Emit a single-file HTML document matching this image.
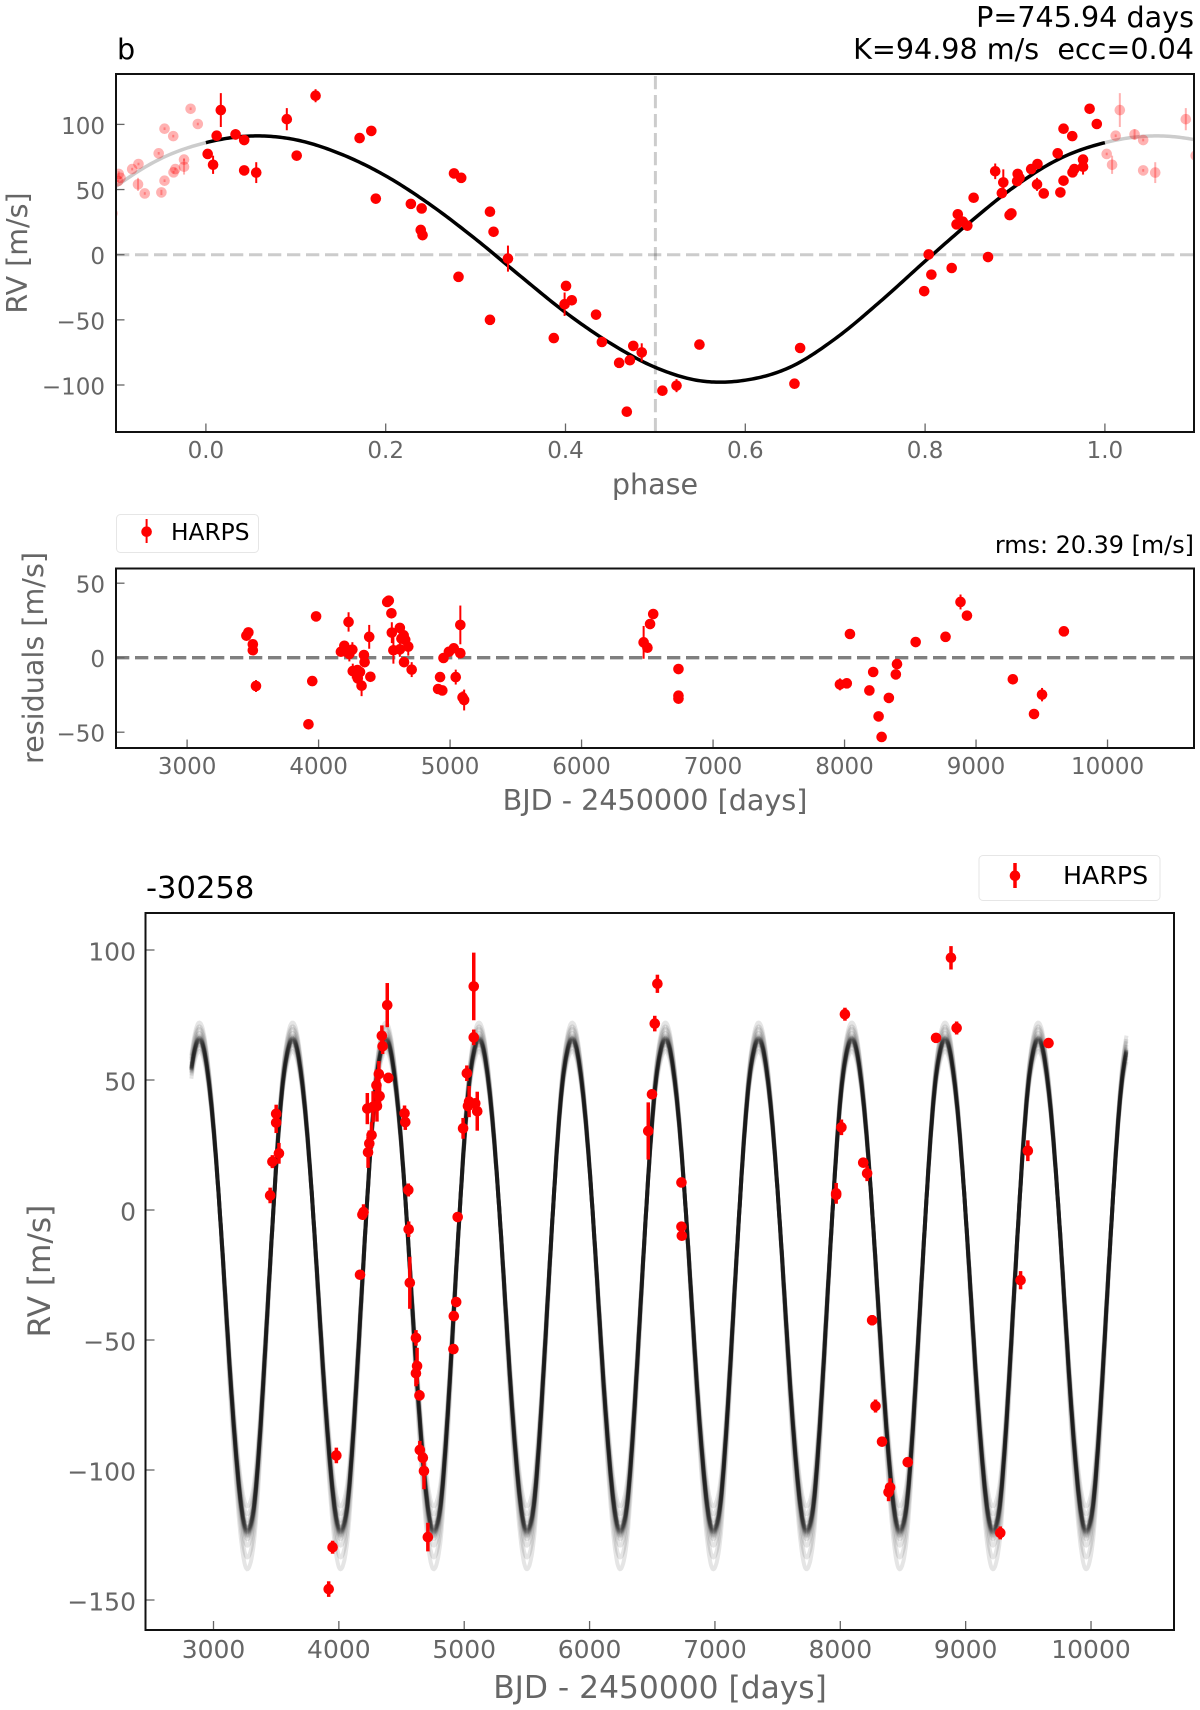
<!DOCTYPE html>
<html lang="en">
<head>
<meta charset="utf-8">
<title>RV phase, residuals and time series</title>
<style>
  html, body { margin: 0; padding: 0; background: #fff; }
  svg { display: block; font-family: "DejaVu Sans", "Liberation Sans", sans-serif; }
</style>
</head>
<body>
<svg id="fig" xmlns="http://www.w3.org/2000/svg" width="1200" height="1710" viewBox="0 0 1200 1710">
  <defs>
    <clipPath id="clip-phase"><rect x="116" y="74" width="1078" height="358"/></clipPath>
    <clipPath id="clip-res"><rect x="116" y="568" width="1078" height="180"/></clipPath>
    <clipPath id="clip-rv"><rect x="145.5" y="913" width="1028.5" height="717"/></clipPath>
  </defs>

  <g id="phase-panel"></g>
  <g id="res-panel"></g>
  <g id="rv-panel"></g>

  <text x="117" y="59" font-size="28.6" fill="#000">b</text>
  <text x="1194" y="27" font-size="28.6" fill="#000" text-anchor="end">P=745.94 days</text>
  <text x="1194" y="59" font-size="28.6" fill="#000" text-anchor="end" xml:space="preserve">K=94.98 m/s  ecc=0.04</text>
  <text x="655" y="494" font-size="28.6" fill="#666" text-anchor="middle">phase</text>
  <text transform="translate(27,253) rotate(-90)" font-size="28.5" fill="#666" text-anchor="middle">RV [m/s]</text>

  <g>
    <rect x="116.5" y="514.5" width="142" height="38" rx="4" fill="#fff" stroke="#e6e6e6" stroke-width="1"/>
    <line x1="146.6" x2="146.6" y1="519" y2="543" stroke="#f00" stroke-width="2"/>
    <circle cx="146.6" cy="531.7" r="5.3" fill="#f00"/>
    <text x="171" y="540" font-size="23.3" fill="#000">HARPS</text>
  </g>
  <text x="1194" y="553" font-size="23.9" fill="#000" text-anchor="end">rms: 20.39 [m/s]</text>
  <text x="655" y="810" font-size="28.6" fill="#666" text-anchor="middle">BJD - 2450000 [days]</text>
  <text transform="translate(43,658) rotate(-90)" font-size="28.6" fill="#666" text-anchor="middle">residuals [m/s]</text>

  <text x="146" y="898" font-size="30.6" fill="#000">-30258</text>
  <g>
    <rect x="979" y="855.5" width="181" height="45" rx="4" fill="#fff" stroke="#e6e6e6" stroke-width="1"/>
    <line x1="1015" x2="1015" y1="863" y2="888" stroke="#f00" stroke-width="3.5"/>
    <circle cx="1015" cy="875.7" r="5.3" fill="#f00"/>
    <text x="1063" y="884" font-size="25.3" fill="#000">HARPS</text>
  </g>
  <text x="660" y="1698" font-size="31.3" fill="#666" text-anchor="middle">BJD - 2450000 [days]</text>
  <text transform="translate(50,1271) rotate(-90)" font-size="31.2" fill="#666" text-anchor="middle">RV [m/s]</text>
</svg>

<script>
// ---------- phase-folded panel data ----------
const phaseValues = [0.002,0.008,0.012,0.0166,0.033,0.0426,0.0426,0.056,0.090,0.101,0.122,0.171,0.184,0.189,0.228,0.240,0.239,0.241,0.276,0.284,0.281,0.316,0.320,0.316,0.336,0.4006,0.399,0.407,0.387,0.434,0.4405,0.4597,0.4716,0.4754,0.4848,0.4682,0.5078,0.5235,0.549,0.6547,0.661,0.799,0.804,0.807,0.8296,0.8364,0.835,0.842,0.847,0.854,0.870,0.878,0.887,0.8854,0.894,0.896,0.903,0.9024,0.905,0.918,0.925,0.9245,0.932,0.9475,0.9505,0.954,0.954,0.9637,0.964,0.966,0.9757,0.9757,0.983,0.991];
const phaseRv = [77.3,69,91.3,111,92.3,88,64.7,63,104,76,122,89.5,95,43,39,35.5,19,15,62.4,59,-17,33,17.6,-50,-3,-24,-38,-35,-64,-46,-67,-83,-81,-70,-75,-120.5,-104.4,-100.5,-69,-99,-71.6,-28,0.2,-15.3,-10.2,31,23.3,25.3,22.3,43.7,-1.8,64,55.5,47.3,30.4,31.7,62,56.5,59,65.7,69.6,54,47,77.8,47.8,96.7,56.8,91,63.2,65.7,73,67.5,112,100.3];
const phaseErr = [1,7,1,13,4,1,1,8,8.5,1,5,1,1,1,1,1,1,1,1,1,1,1,1,1,10,1,9,1,1,1,1,1,1,1,7,1,1,5,1,1,1,1,1,1,1,1,1,1,1,1,1,6,10,4,1,1,2,1,1,1,1,5,1,1,2,1,1,1,1,1,1,6,1,1];
const curvePhases = [0,0.05,0.10,0.15,0.20,0.25,0.30,0.35,0.40,0.45,0.50,0.55,0.60,0.65,0.70,0.75,0.80,0.85,0.90,0.95,1.00];
const curveRv = [86,91.1,88.2,77.3,60.5,38.2,12,-16.5,-44.3,-68,-86.5,-96.8,-96.3,-86.3,-64.5,-36,-5,25,52.5,73.8,86];
const phaseXTicks = [0,0.2,0.4,0.6,0.8,1.0];
const phaseXLabels = ['0.0','0.2','0.4','0.6','0.8','1.0'];
const phaseYTicks = [100,50,0,-50,-100];
const phaseYLabels = ['100','50','0','\u221250','\u2212100'];

// ---------- residuals panel data ----------
const resTimes = [3451,3466,3500,3500,3524,3923,3952,3981,4170,4196,4211,4228,4234,4257,4260,4295,4298,4315,4327,4345,4350,4385,4394,4522,4534,4554,4557,4569,4618,4618,4630,4647,4659,4650,4682,4708,4909,4924,4941,4950,4991,5028,5043,5078,5078,5095,5107,6472,6501,6521,6545,6737,6737,6737,7965,8017,8041,8189,8218,8259,8282,8337,8390,8399,8541,8768,8882,8931,9280,9441,9502,9668];
const resValues = [14.8,17,9,5,-19,-44.7,-15.7,27.7,4,8,4,24,2.5,5.4,-9,-8.3,-13.9,-9.6,-18.8,1.8,-3,14,-12.8,37.4,38.3,29.8,16.8,5,20,5.6,12.8,15,12,-3,7.4,-8,-21,-13,-22,-0.2,4,6.3,-13,22,3,-26.6,-28.4,10.3,6.7,22.6,29.3,-7.6,-25.5,-27.5,-17.9,-17.2,15.9,-22,-9.6,-39.4,-53.2,-27,-11.2,-4.3,10.5,14,37.4,28.2,-14.5,-37.8,-24.8,17.7];
const resErrs = [1,1,1,1,4,1,1,1,1,1,1,6.5,5,5,5,1,1,1,7,1,1,8,1,1,1,1,7,9,1,5,1,1,3,1,6,5,1,1,1,1,1,1,5,13,1,4,7,11,1,1,1,1,1,1,4,1,1,1,1,1,1,1,1,1,1,1,5,1,1,3,4.5,1];
const resXTicks = [3000,4000,5000,6000,7000,8000,9000,10000];
const resYTicks = [50,0,-50];
const resYLabels = ['50','0','\u221250'];

// ---------- time-series panel data ----------
const rvTimes = [3452,3470,3500,3500,3522,3919,3950,3980,4169,4197,4188,4233,4243,4261,4227,4273,4304,4300,4319,4325,4343,4349,4386,4395,4524,4530,4554,4557,4566,4615,4624,4615,4643,4646,4670,4679,4710,4914,4917,4936,4948,4991,5021,5039,5030,5076,5076,5088,5104,6468,6498,6520,6541,6733,6733,6736,7967,7967,8009,8037,8183,8214,8254,8281,8333,8397,8385,8538,8764,8883,8928,9276,9438,9496,9661];
const rvValues = [5.6,18.6,33.6,37,21.8,-145.8,-129.7,-94.4,-24.9,-0.8,-1.8,22.2,25.6,28.8,39,39.7,40,48,52.3,43.8,67,63,78.8,50.8,37.2,33.8,7.7,-7.4,-28,-49.2,-60,-62.8,-71.3,-92.3,-95.3,-100.4,-125.8,-53.5,-40.8,-35.4,-2.7,31.4,52.6,41.7,40,66.4,86,41,38,30.4,44.5,71.7,87,10.6,-6.4,-9.9,6.4,5.8,31.8,75.3,18.2,14.1,-42.4,-75.4,-89.1,-106.7,-108.5,-97,66.2,97,70,-124.2,-27,22.8,64.2];
const rvErrs = [3,2.5,4,3.5,4,3,2.5,3,1,3,1,6,5,5,6,6,6,6,5,5,4,3,8.5,2,3,3,2.5,3,10,3,7,5,2,3.5,2,7,5.5,1,1,1,1,4,3,6,2,3,13,2,7.5,11,1,3,3.5,1,1,1,4,2,3,2.5,1,3,2,2.5,1,3.5,3.5,1,1,4.5,2.5,2.5,3.5,4,1];
const rvXTicks = [3000,4000,5000,6000,7000,8000,9000,10000];
const rvYTicks = [100,50,0,-50,-100,-150];
const rvYLabels = ['100','50','0','\u221250','\u2212100','\u2212150'];
const samplePeaks = [72,70.5,69.5,68,67,66.5,66,66,66,65.5,65.5,65.5,65,65,65,64.5,64,63.5,62.5,61];
const sampleTroughs = [-137,-132.5,-128,-125.5,-124.5,-124,-123.5,-123,-123,-122.5,-122.5,-122,-122,-121.5,-121.5,-121,-120,-118.5,-116,-113];
const modelPeriod = 743.5;
const modelEpoch = 2845;
const modelStart = 2823;
const modelEnd = 10287;

// ---------- axis functions ----------
const xPhase = p => 205.9 + 899 * p;
const yPhase = v => 254.7 - 1.303 * v;
const xRes = t => 187.1 + 0.13149 * (t - 3000);
const yRes = v => 657.7 - 1.49 * v;
const xRv = t => 213.5 + 0.12536 * (t - 3000);
const yRv = v => 1210 - 2.6 * v;

const NS = 'http://www.w3.org/2000/svg';
function mk(tag, parent) {
  const e = document.createElementNS(NS, tag);
  parent.appendChild(e);
  return e;
}

// periodic Catmull-Rom lookup through the curve values
function curveAt(ph) {
  const n = curvePhases.length - 1;
  let f = ph - Math.floor(ph);
  const u = f * n;
  const i = Math.min(n - 1, Math.floor(u));
  const s = u - i;
  const at = k => curveRv[((k % n) + n) % n];
  const p0 = at(i - 1), p1 = at(i), p2 = at(i + 1), p3 = at(i + 2);
  return 0.5 * (2 * p1 + (p2 - p0) * s + (2 * p0 - 5 * p1 + 4 * p2 - p3) * s * s + (3 * p1 - p0 - 3 * p2 + p3) * s * s * s);
}

function drawFrame(parent, x0, y0, x1, y1, xTicks, xLabels, xFn, yTicks, yLabels, yFn, fs, xLabelBase, yLabelRight, tickLen, prefix) {
  xTicks.forEach((t, i) => {
    const tick = mk('line', parent);
    
    
    tick.setAttribute('x1', xFn(t));
    tick.setAttribute('x2', xFn(t));
    tick.setAttribute('y1', y1);
    tick.setAttribute('y2', y1 - tickLen);
    tick.setAttribute('stroke', '#666');
    tick.setAttribute('stroke-width', '1.3');
    const lab = mk('text', parent);
    
    
    lab.setAttribute('x', xFn(t));
    lab.setAttribute('y', xLabelBase);
    lab.setAttribute('font-size', fs);
    lab.setAttribute('fill', '#666');
    lab.setAttribute('text-anchor', 'middle');
    lab.textContent = xLabels[i];
  });
  yTicks.forEach((v, i) => {
    const tick = mk('line', parent);
    
    
    tick.setAttribute('x1', x0);
    tick.setAttribute('x2', x0 + tickLen);
    tick.setAttribute('y1', yFn(v));
    tick.setAttribute('y2', yFn(v));
    tick.setAttribute('stroke', '#666');
    tick.setAttribute('stroke-width', '1.3');
    const lab = mk('text', parent);
    
    
    lab.setAttribute('x', yLabelRight);
    lab.setAttribute('y', yFn(v) + fs * 0.41);
    lab.setAttribute('font-size', fs);
    lab.setAttribute('fill', '#666');
    lab.setAttribute('text-anchor', 'end');
    lab.textContent = yLabels[i];
  });
  const frame = mk('rect', parent);
  
  
  frame.setAttribute('x', x0);
  frame.setAttribute('y', y0);
  frame.setAttribute('width', x1 - x0);
  frame.setAttribute('height', y1 - y0);
  frame.setAttribute('fill', 'none');
  frame.setAttribute('stroke', '#111');
  frame.setAttribute('stroke-width', '2');
}

function drawPoint(parent, cx, cy, top, bottom, barW, opacity, name) {
  const g = mk('g', parent);
  
  
  const bar = mk('line', g);
  
  
  bar.setAttribute('x1', cx);
  bar.setAttribute('x2', cx);
  bar.setAttribute('y1', top);
  bar.setAttribute('y2', bottom);
  bar.setAttribute('stroke', '#f00');
  bar.setAttribute('stroke-width', barW);
  bar.setAttribute('opacity', opacity);
  const dot = mk('circle', g);
  
  
  dot.setAttribute('cx', cx);
  dot.setAttribute('cy', cy);
  dot.setAttribute('r', 5.3);
  dot.setAttribute('fill', '#f00');
  dot.setAttribute('opacity', opacity);
}

// ---------- phase panel ----------
(function () {
  const panel = document.getElementById('phase-panel');
  const clip = mk('g', panel);
  
  
  clip.setAttribute('clip-path', 'url(#clip-phase)');

  const hz = mk('line', clip);
  
  
  hz.setAttribute('x1', 116);
  hz.setAttribute('x2', 1194);
  hz.setAttribute('y1', yPhase(0));
  hz.setAttribute('y2', yPhase(0));
  hz.setAttribute('stroke', '#000');
  hz.setAttribute('stroke-opacity', '0.2');
  hz.setAttribute('stroke-width', '3');
  hz.setAttribute('stroke-dasharray', '13.3 5.7');

  const vt = mk('line', clip);
  
  
  vt.setAttribute('x1', xPhase(0.5));
  vt.setAttribute('x2', xPhase(0.5));
  vt.setAttribute('y1', 76);
  vt.setAttribute('y2', 432);
  vt.setAttribute('stroke', '#000');
  vt.setAttribute('stroke-opacity', '0.2');
  vt.setAttribute('stroke-width', '3');
  vt.setAttribute('stroke-dasharray', '13.3 5.7');

  function curvePath(a, b) {
    let d = '';
    const steps = Math.round((b - a) * 400);
    for (let i = 0; i <= steps; i++) {
      const p = a + (b - a) * i / steps;
      d += (i ? 'L' : 'M') + xPhase(p).toFixed(2) + ' ' + yPhase(curveAt(p)).toFixed(2);
    }
    return d;
  }
  [[-0.1, 0], [1, 1.1]].forEach(r => {
    const ext = mk('path', clip);
    
    
    ext.setAttribute('d', curvePath(r[0], r[1]));
    ext.setAttribute('fill', 'none');
    ext.setAttribute('stroke', '#ccc');
    ext.setAttribute('stroke-width', '3.5');
  });
  [-1, 1].forEach(shift => {
    phaseValues.forEach((p, i) => {
      const q = p + shift;
      if (q < -0.12 || q > 1.12) return;
      drawPoint(clip, xPhase(q), yPhase(phaseRv[i]), yPhase(phaseRv[i] + phaseErr[i]), yPhase(phaseRv[i] - phaseErr[i]), 2, 0.3, 'wrapped-phase-point');
    });
  });
  const main = mk('path', clip);
  
  
  main.setAttribute('d', curvePath(0, 1));
  main.setAttribute('fill', 'none');
  main.setAttribute('stroke', '#000');
  main.setAttribute('stroke-width', '3.5');
  phaseValues.forEach((p, i) => {
    drawPoint(clip, xPhase(p), yPhase(phaseRv[i]), yPhase(phaseRv[i] + phaseErr[i]), yPhase(phaseRv[i] - phaseErr[i]), 2, 1, 'phase-point');
  });
  drawFrame(panel, 116, 74, 1194, 432, phaseXTicks, phaseXLabels, xPhase, phaseYTicks, phaseYLabels, yPhase, 23, 458, 105, 8.5, 'phase');
})();

// ---------- residuals panel ----------
(function () {
  const panel = document.getElementById('res-panel');
  const clip = mk('g', panel);
  
  
  clip.setAttribute('clip-path', 'url(#clip-res)');
  const zero = mk('line', clip);
  
  
  zero.setAttribute('x1', 116);
  zero.setAttribute('x2', 1194);
  zero.setAttribute('y1', yRes(0));
  zero.setAttribute('y2', yRes(0));
  zero.setAttribute('stroke', '#7f7f7f');
  zero.setAttribute('stroke-width', '3.3');
  zero.setAttribute('stroke-dasharray', '13.3 5.7');
  resTimes.forEach((t, i) => {
    drawPoint(clip, xRes(t), yRes(resValues[i]), yRes(resValues[i] + resErrs[i]), yRes(resValues[i] - resErrs[i]), 2, 1, 'residual-point');
  });
  drawFrame(panel, 116, 568.5, 1194, 748, resXTicks, resXTicks.map(String), xRes, resYTicks, resYLabels, yRes, 23, 774, 105, 8.5, 'residuals');
})();

// ---------- time-series panel ----------
(function () {
  const panel = document.getElementById('rv-panel');
  const clip = mk('g', panel);
  
  
  clip.setAttribute('clip-path', 'url(#clip-rv)');
  const cMax = Math.max.apply(null, curveRv);
  const cMin = Math.min.apply(null, curveRv);
  samplePeaks.forEach((peak, s) => {
    const trough = sampleTroughs[s];
    let d = '';
    for (let t = modelStart; t <= modelEnd; t += 5) {
      const ph = (t - modelEpoch) / modelPeriod;
      const frac = (curveAt(ph) - cMin) / (cMax - cMin);
      const v = trough + frac * (peak - trough);
      d += (d ? 'L' : 'M') + xRv(t).toFixed(1) + ' ' + yRv(v).toFixed(1);
    }
    const path = mk('path', clip);
    
    
    path.setAttribute('d', d);
    path.setAttribute('fill', 'none');
    path.setAttribute('stroke', '#000');
    path.setAttribute('stroke-opacity', '0.1');
    path.setAttribute('stroke-width', '4');
  });
  rvTimes.forEach((t, i) => {
    drawPoint(clip, xRv(t), yRv(rvValues[i]), yRv(rvValues[i] + rvErrs[i]), yRv(rvValues[i] - rvErrs[i]), 3.5, 1, 'rv-point');
  });
  drawFrame(panel, 145.5, 913, 1174, 1630, rvXTicks, rvXTicks.map(String), xRv, rvYTicks, rvYLabels, yRv, 25, 1658, 136, 9, 'rv');
})();
</script>
</body>
</html>
